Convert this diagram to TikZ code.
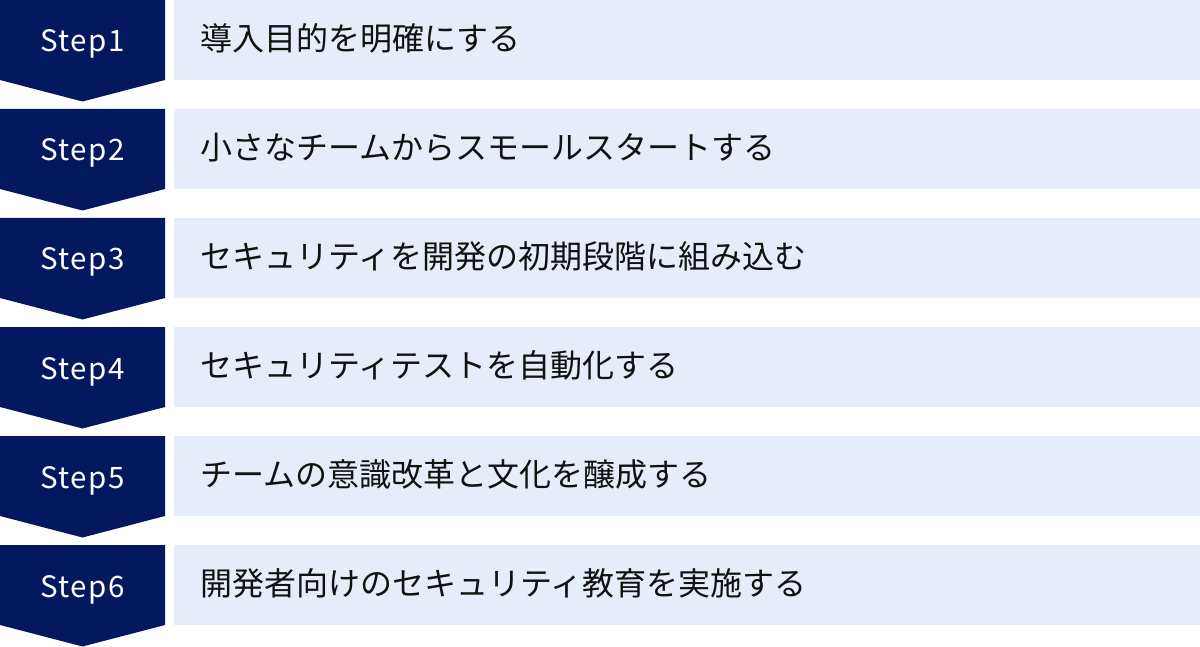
\documentclass[tikz,border=0pt]{standalone}
\usepackage{fontspec}
\usepackage{xcolor}
\newfontfamily\jpfont{Noto Sans CJK JP}
\newfontfamily\stepfont[LetterSpace=5]{Noto Sans CJK JP}
\definecolor{stepnavy}{HTML}{04185F}
\definecolor{steplight}{HTML}{E6ECF9}
\definecolor{steptext}{HTML}{111111}

\begin{document}
\begin{tikzpicture}
			[line cap=round,line join=round,x=1pt,y=1pt]
			\useasboundingbox (0,0) rectangle (1200,-647);
			\foreach \i/\txt in {1/導入目的を明確にする,2/小さなチームからスモールスタートする,3/セキュリティを開発の初期段階に組み込む,4/セキュリティテストを自動化する,5/チームの意識改革と文化を醸成する,6/開発者向けのセキュリティ教育を実施する}
			{
				\pgfmathsetmacro{\top}{-109*(\i-1)}
				\fill [stepnavy] (0,\top) -- (165,\top) -- (165,\top-80) -- (82.5,\top-101.5) -- (0,\top-80) -- cycle;
				\fill [steplight] (174,\top) rectangle (1200,\top-80);
				\node [anchor=base,text=white,font=\stepfont\fontsize{29.5}{34}\selectfont] (step\i) at (82.5,\top-52) {Step\i};
				\node [anchor=base west,inner xsep=0pt,text=steptext,font=\jpfont\fontsize{32}{36}\selectfont] (task\i) at (200,\top-50.5) {\txt};
			}
		\end{tikzpicture}
\end{document}
